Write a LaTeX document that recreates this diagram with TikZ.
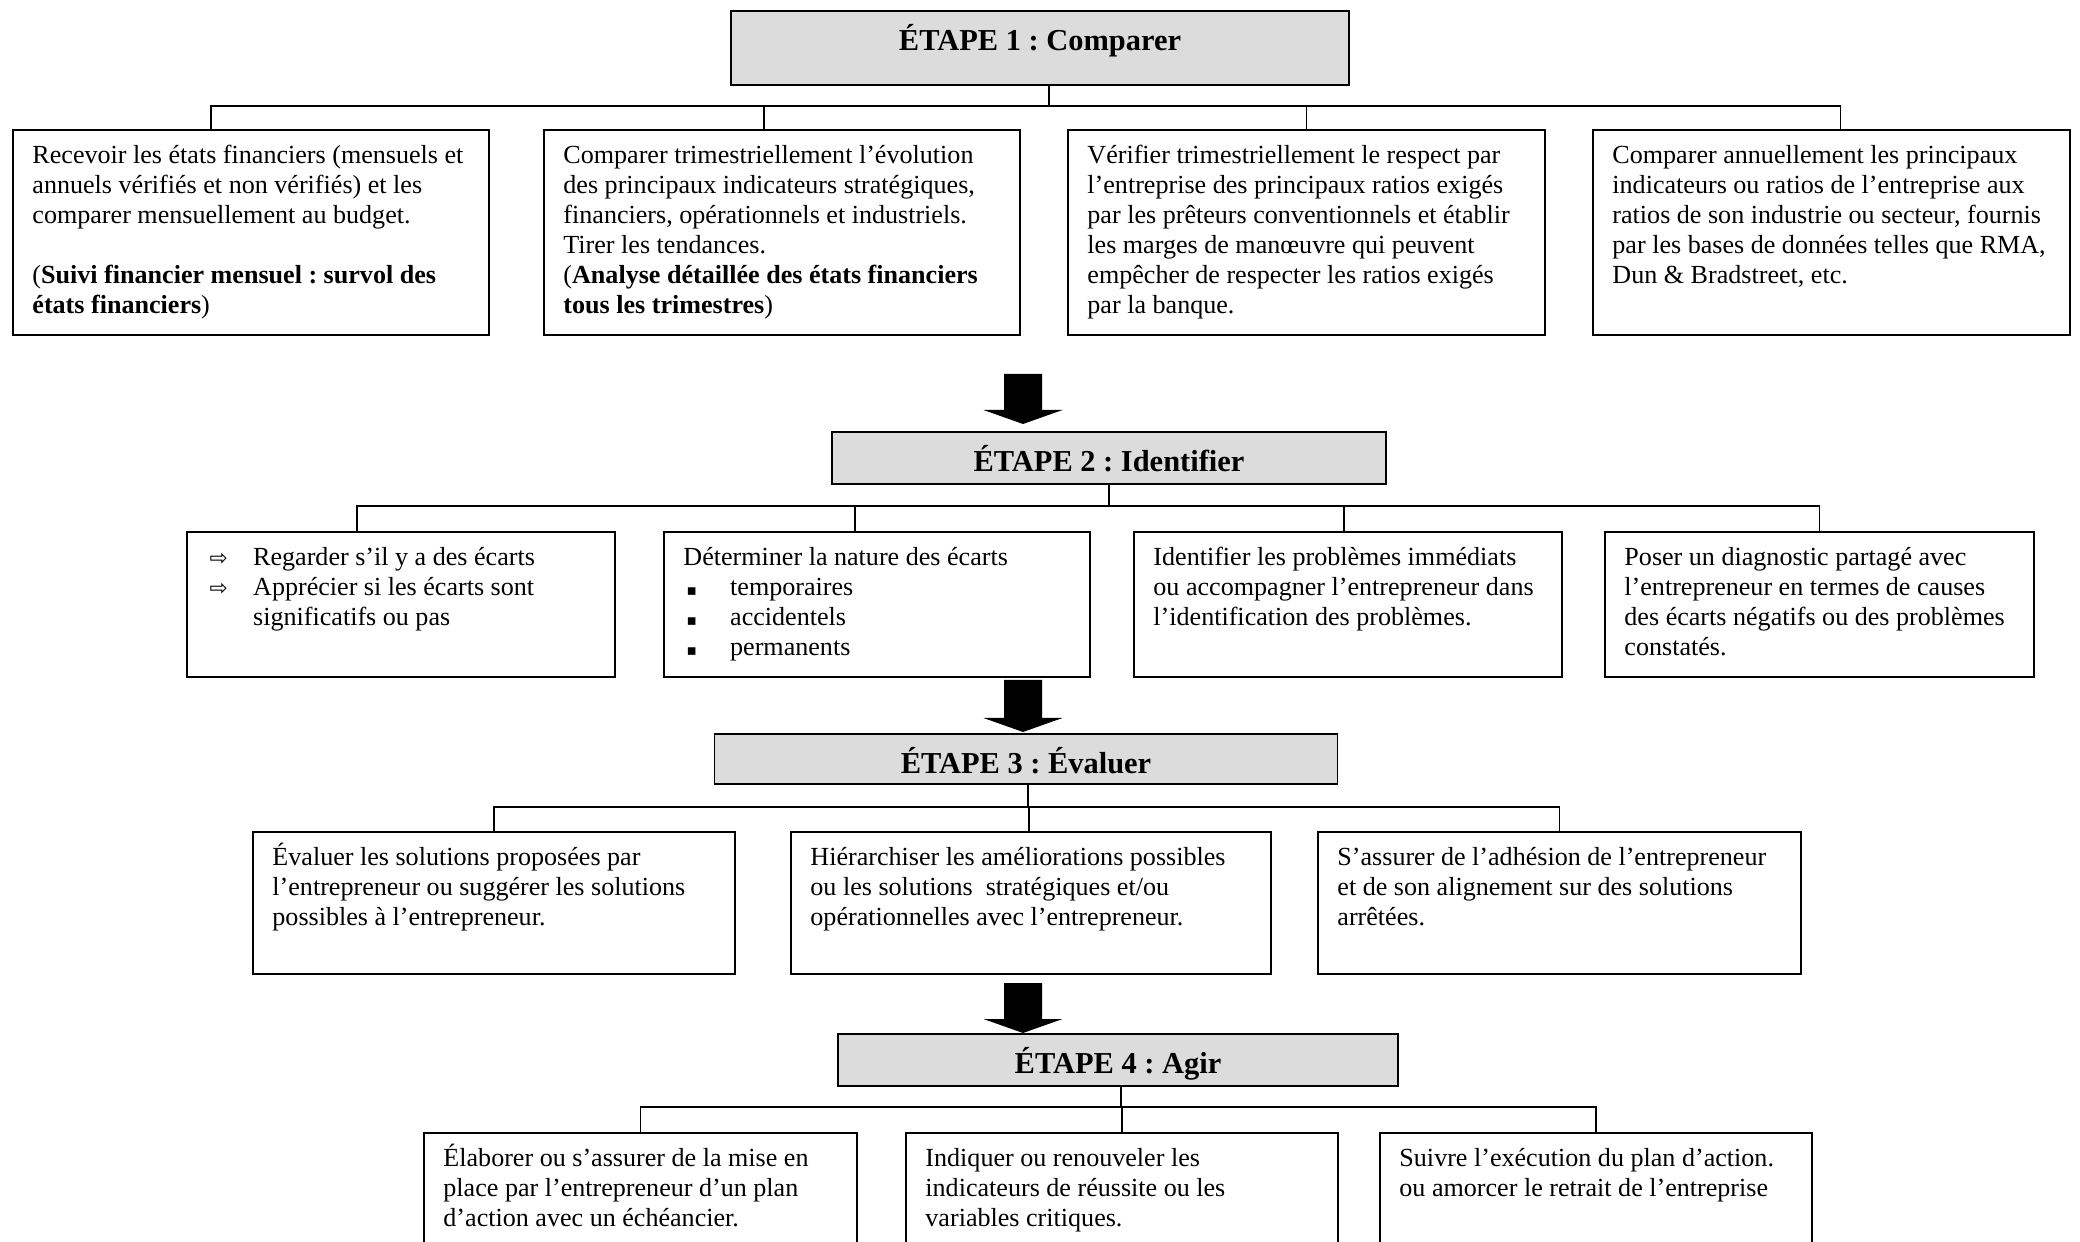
\documentclass[tikz,border=0pt]{standalone}
\usepackage{fontspec}
\setmainfont{Liberation Serif}
\newfontfamily\symbfont{DejaVu Sans}
\definecolor{etapegray}{RGB}{220,220,220}
\newcommand\px{0.46pt}
\newcommand\haut{\rule{0pt}{12pt}}
\newcommand\puce[1]{\hspace*{1.5pt}\makebox[20pt][l]{#1}}
\newcommand\fleche{{\symbfont\fontsize{10}{10}\selectfont ⇨}}
\newcommand\carre{{\symbfont\fontsize{7}{7}\selectfont ▪}}
\frenchspacing

\begin{document}
\begin{tikzpicture}[x=0.46pt,y=-0.46pt,
  box/.style={draw,line width=0.9pt,anchor=north west,inner sep=0pt},
  boxtext/.style={anchor=north west,align=left,inner xsep=9.2pt,inner ysep=3.6pt,
    font=\fontsize{12}{13.8}\selectfont},
  etape/.style={draw,line width=0.9pt,fill=etapegray,inner sep=0pt,text height=18pt,
    font=\fontsize{14}{16}\selectfont\bfseries},
  link/.style={line width=0.9pt}]
\useasboundingbox (0,0) rectangle (2080,1242);

\node[etape,minimum width=618*\px,minimum height=74*\px,text depth=35*\px] (e1) at (1040,48) {ÉTAPE 1 : Comparer};
\node[box,minimum width=476*\px,minimum height=205*\px] (b11) at (12,129) {};
\node[box,minimum width=476*\px,minimum height=205*\px] (b12) at (543,129) {};
\node[box,minimum width=477*\px,minimum height=205*\px] (b13) at (1067,129) {};
\node[box,minimum width=477*\px,minimum height=205*\px] (b14) at (1592,129) {};
\node[boxtext] (t11) at (b11.north west) {\haut Recevoir les états financiers (mensuels et\\
  annuels vérifiés et non vérifiés) et les\\
  comparer mensuellement au budget.\\[13.8pt]
  (\textbf{Suivi financier mensuel : survol des}\\
  \textbf{états financiers})};
\node[boxtext] (t12) at (b12.north west) {\haut Comparer trimestriellement l’évolution\\
  des principaux indicateurs stratégiques,\\
  financiers, opérationnels et industriels.\\
  Tirer les tendances.\\
  (\textbf{Analyse détaillée des états financiers}\\
  \textbf{tous les trimestres})};
\node[boxtext] (t13) at (b13.north west) {\haut Vérifier trimestriellement le respect par\\
  l’entreprise des principaux ratios exigés\\
  par les prêteurs conventionnels et établir\\
  les marges de manœuvre qui peuvent\\
  empêcher de respecter les ratios exigés\\
  par la banque.};
\node[boxtext] (t14) at (b14.north west) {\haut Comparer annuellement les principaux\\
  indicateurs ou ratios de l’entreprise aux\\
  ratios de son industrie ou secteur, fournis\\
  par les bases de données telles que RMA,\\
  Dun \& Bradstreet, etc.};
\coordinate (j1) at (1049,106);
\draw[link] ([xshift=9*\px]e1.south) -- (j1);
\draw[link] (j1) -| ([xshift=-40*\px]b11.north);
\draw[link] (j1) -| ([xshift=-18*\px]b12.north);
\draw[link] (j1) -| (b13.north);
\draw[link] (j1) -| ([xshift=9*\px]b14.north);

\fill (1004,374) -- (1042,374) -- (1042,410) -- (1062.5,410) -- (1023,424) -- (983.5,410) -- (1004,410) -- cycle;
\node[etape,minimum width=554*\px,minimum height=52*\px,text depth=13*\px] (e2) at (1109,458) {ÉTAPE 2 : Identifier};
\node[box,minimum width=428*\px,minimum height=145*\px] (b21) at (186,531) {};
\node[box,minimum width=426*\px,minimum height=145*\px] (b22) at (663,531) {};
\node[box,minimum width=428*\px,minimum height=145*\px] (b23) at (1133,531) {};
\node[box,minimum width=429*\px,minimum height=145*\px] (b24) at (1604,531) {};
\node[boxtext] (t21) at (b21.north west) {\haut\puce{\fleche}Regarder s’il y a des écarts\\
  \puce{\fleche}Apprécier si les écarts sont\\
  \puce{}significatifs ou pas};
\node[boxtext] (t22) at (b22.north west) {\haut Déterminer la nature des écarts\\
  \puce{\carre}temporaires\\
  \puce{\carre}accidentels\\
  \puce{\carre}permanents};
\node[boxtext] (t23) at (b23.north west) {\haut Identifier les problèmes immédiats\\
  ou accompagner l’entrepreneur dans\\
  l’identification des problèmes.};
\node[boxtext] (t24) at (b24.north west) {\haut Poser un diagnostic partagé avec\\
  l’entrepreneur en termes de causes\\
  des écarts négatifs ou des problèmes\\
  constatés.};
\coordinate (j2) at (1109,506);
\draw[link] (e2.south) -- (j2);
\draw[link] (j2) -| ([xshift=-44*\px]b21.north);
\draw[link] (j2) -| ([xshift=-22*\px]b22.north);
\draw[link] (j2) -| ([xshift=-4*\px]b23.north);
\draw[link] (j2) -| (b24.north);

\fill (1004,680) -- (1042,680) -- (1042,718) -- (1062.5,718) -- (1023,732) -- (983.5,718) -- (1004,718) -- cycle;
\node[etape,minimum width=623*\px,minimum height=50*\px,text depth=11*\px] (e3) at (1026,759) {ÉTAPE 3 : Évaluer};
\node[box,minimum width=482*\px,minimum height=142*\px] (b31) at (252,831) {};
\node[box,minimum width=480*\px,minimum height=142*\px] (b32) at (790,831) {};
\node[box,minimum width=483*\px,minimum height=142*\px] (b33) at (1317,831) {};
\node[boxtext] (t31) at (b31.north west) {\haut Évaluer les solutions proposées par\\
  l’entrepreneur ou suggérer les solutions\\
  possibles à l’entrepreneur.};
\node[boxtext] (t32) at (b32.north west) {\haut Hiérarchiser les améliorations possibles\\
  ou les solutions\ \ stratégiques et/ou\\
  opérationnelles avec l’entrepreneur.};
\node[boxtext] (t33) at (b33.north west) {\haut S’assurer de l’adhésion de l’entrepreneur\\
  et de son alignement sur des solutions\\
  arrêtées.};
\coordinate (j3) at (1028,807);
\draw[link] ([xshift=2*\px]e3.south) -- (j3);
\draw[link] (j3) -| (b31.north);
\draw[link] (j3) -| ([xshift=-2*\px]b32.north);
\draw[link] (j3) -| (b33.north);

\fill (1004,983) -- (1042,983) -- (1042,1019) -- (1062.5,1019) -- (1023,1033) -- (983.5,1019) -- (1004,1019) -- cycle;
\node[etape,minimum width=560*\px,minimum height=52*\px,text depth=13*\px] (e4) at (1118,1060) {ÉTAPE 4 : Agir};
\node[box,minimum width=433*\px,minimum height=140*\px] (b41) at (423,1132) {};
\node[box,minimum width=432*\px,minimum height=140*\px] (b42) at (905,1132) {};
\node[box,minimum width=432*\px,minimum height=140*\px] (b43) at (1379,1132) {};
\node[boxtext] (t41) at (b41.north west) {\haut Élaborer ou s’assurer de la mise en\\
  place par l’entrepreneur d’un plan\\
  d’action avec un échéancier.};
\node[boxtext] (t42) at (b42.north west) {\haut Indiquer ou renouveler les\\
  indicateurs de réussite ou les\\
  variables critiques.};
\node[boxtext] (t43) at (b43.north west) {\haut Suivre l’exécution du plan d’action.\\
  ou amorcer le retrait de l’entreprise};
\coordinate (j4) at (1121,1107);
\draw[link] ([xshift=3*\px]e4.south) -- (j4);
\draw[link] (j4) -| (b41.north);
\draw[link] (j4) -| (b42.north);
\draw[link] (j4) -| (b43.north);
\end{tikzpicture}
\end{document}
